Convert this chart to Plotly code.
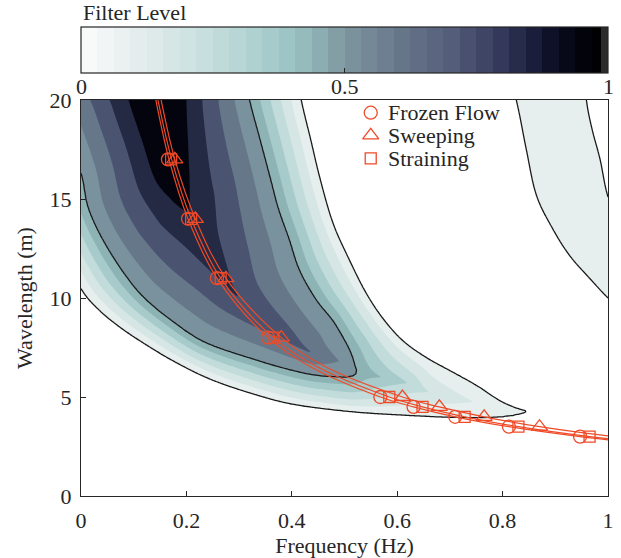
import numpy as np
import plotly.graph_objects as go

# ---------------- data ----------------
# Dispersion curves (wavelength in m -> frequency in Hz)
LINE_LAMBDA = [21, 20, 17, 14, 11, 8, 6.5, 5, 4.5, 4, 3.5, 3, 2.7]
FROZEN_LINE_F = [0.135, 0.142, 0.167, 0.203, 0.258, 0.355, 0.437, 0.568, 0.631, 0.71, 0.812, 0.947, 1.05]
STRAIN_LINE_F = [0.139, 0.146, 0.172, 0.209, 0.265, 0.365, 0.45, 0.585, 0.648, 0.728, 0.83, 0.965, 1.07]
SWEEP_LINE_F = [0.145, 0.152, 0.178, 0.217, 0.275, 0.38, 0.466, 0.61, 0.68, 0.765, 0.87, 1.01, 1.12]

# Marker positions
MARK_LAMBDA = [17, 14, 11, 8, 5, 4.5, 4, 3.5, 3]
FROZEN_MARK_F = [0.165, 0.203, 0.258, 0.355, 0.568, 0.631, 0.71, 0.812, 0.947]
STRAIN_MARK_F = [0.171, 0.209, 0.265, 0.365, 0.585, 0.648, 0.728, 0.83, 0.965]
SWEEP_MARK_LAMBDA = [17, 14, 11, 8, 5, 4.5, 4, 3.5]
SWEEP_MARK_F = [0.178, 0.217, 0.275, 0.38, 0.61, 0.68, 0.765, 0.87]
SERIES_NAMES = ['Frozen Flow', 'Sweeping', 'Straining']

# Traced contour lines of the filter level (frequency, wavelength)
# level 0 boundary of the main lobe (closed)
L0_F = [0.40, 0.418, 0.436, 0.454, 0.478, 0.508, 0.54, 0.572, 0.61, 0.655, 0.70, 0.75, 0.794, 0.825, 0.845,
        0.83, 0.80, 0.76, 0.70, 0.60, 0.51, 0.41, 0.34, 0.25, 0.18, 0.12, 0.07, 0.03, 0.0,
        -0.04, -0.08, -0.12, -0.15, -0.17]
L0_L = [22.5, 20, 18, 16, 13.8, 12, 10.3, 9.0, 7.86, 7.0, 6.34, 5.6, 4.83, 4.45, 4.28,
        4.12, 4.0, 3.95, 3.97, 4.1, 4.27, 4.6, 5.05, 5.85, 6.75, 7.7, 8.6, 9.5, 10.47,
        12.5, 15, 18, 20, 22.5]
# level 0.5 (closed)
L5_F = [0.30, 0.32, 0.34, 0.36, 0.375, 0.395, 0.415, 0.447, 0.478, 0.50, 0.513, 0.52, 0.523,
        0.52, 0.50, 0.447, 0.40, 0.34, 0.24, 0.18, 0.12, 0.08, 0.04, 0.013, 0.0, -0.03, -0.05, -0.06]
L5_L = [22.5, 20, 18, 16, 14.5, 13, 11.4, 9.9, 8.87, 7.9, 7.2, 6.6, 6.3,
        6.1, 6.0, 6.09, 6.35, 6.8, 7.7, 8.7, 10.0, 11.3, 13.0, 14.6, 16.3, 18.5, 20, 22.5]
# level 0.9 core (closed)
L9_F = [0.065, 0.09, 0.115, 0.14, 0.17, 0.195, 0.205, 0.206, 0.203, 0.20, 0.198]
L9_L = [22.5, 20, 18, 16, 15, 14.45, 14.6, 16, 18, 20, 22.5]
# ridge of the main lobe below the core (f, lambda, level)
RIDGE_F = [0.200, 0.25, 0.30, 0.38, 0.44, 0.49, 0.523]
RIDGE_L = [14.45, 12.0, 10.0, 8.3, 7.2, 6.8, 6.3]
RIDGE_V = [0.9, 0.85, 0.8, 0.75, 0.7, 0.6, 0.5]
# tail of the main lobe (f, lambda, level)
TAIL_F = [0.523, 0.57, 0.62, 0.66, 0.745, 0.845]
TAIL_L = [6.3, 6.0, 5.7, 5.25, 4.75, 4.28]
TAIL_V = [0.5, 0.4, 0.3, 0.2, 0.1, 0.0]
# side lobe on the right (closed, level 0 boundary)
SB_F = [0.80, 0.826, 0.845, 0.864, 0.895, 0.927, 0.965, 1.0, 1.03, 1.06, 1.03, 1.0, 0.985, 0.97, 0.959, 0.95]
SB_L = [22.5, 20, 17.5, 15.2, 13.5, 12.15, 11.0, 10.0, 9.3, 10.5, 13, 15.1, 17, 18.5, 20, 22.5]

# Filter level bands (below 0, then 0-0.1 ... 0.9-1)
BAND_COLORS = ['#ffffff', '#e6efee', '#d6e6e5', '#c2dcdb', '#a7cbcb', '#8db3b5',
               '#7a929d', '#66778a', '#4a5471', '#242944', '#03040e']
# colour bar map (level, colour)
CMAP_POS = [0.0, 0.1, 0.2, 0.3, 0.4, 0.45, 0.5, 0.55, 0.6, 0.7, 0.8, 0.85, 0.9, 0.95, 1.0]
CMAP_COL = ['#fbfcfc', '#e6eeee', '#d0e3e2', '#b6d6d5', '#9cc3c4', '#8db0b3', '#7f979f', '#738797',
            '#68788b', '#555e7a', '#33385a', '#1e223f', '#0b0d24', '#02030c', '#000000']
CB_END_STRIP = ('#2b2b2b', 0.987)
CB_TICKS = [0, 0.5, 1]
X_TICKS = [0, 0.2, 0.4, 0.6, 0.8, 1]
Y_TICKS = [0, 5, 10, 15, 20]
RED = '#ef4a28'
FONT = 'Liberation Serif, Times New Roman, serif'
INK = '#262626'
FS = 22

# ---------------- build the filter field from the traced lines ----------------
SX, SY = 527.5, 19.79  # pixel scale of the axes (for isotropic distances)
nf, nl = 321, 321
fg = np.linspace(0, 1, nf)
lg = np.linspace(0, 20, nl)
FF, LL = np.meshgrid(fg, lg)
PX, PY = FF * SX, LL * SY


def densify(P, vals=None, closed=True, k=6):
    """Catmull-Rom smoothing of a traced polyline."""
    P = np.asarray(P, float)
    n = len(P)
    V = None if vals is None else np.asarray(vals, float)
    out, outv = [], []
    rng = range(n) if closed else range(n - 1)
    for i in rng:
        if closed:
            p0, p1, p2, p3 = P[(i - 1) % n], P[i], P[(i + 1) % n], P[(i + 2) % n]
        else:
            p0 = P[max(i - 1, 0)]
            p1, p2 = P[i], P[i + 1]
            p3 = P[min(i + 2, n - 1)]
        for s in np.linspace(0, 1, k, endpoint=False):
            s2, s3 = s * s, s * s * s
            pt = 0.5 * ((2 * p1) + (-p0 + p2) * s + (2 * p0 - 5 * p1 + 4 * p2 - p3) * s2
                        + (-p0 + 3 * p1 - 3 * p2 + p3) * s3)
            out.append(pt)
            if V is not None:
                outv.append(V[i] + s * (V[(i + 1) % n] - V[i]))
    if not closed:
        out.append(P[-1])
        if V is not None:
            outv.append(V[-1])
    return np.array(out), (None if V is None else np.array(outv))


def poly(fs, ls):
    return np.column_stack([np.asarray(fs) * SX, np.asarray(ls) * SY])


def inside(P):
    x, y = P[:, 0], P[:, 1]
    res = np.zeros(PX.shape, bool)
    n = len(x)
    for i in range(n):
        j = (i - 1) % n
        xi, yi, xj, yj = x[i], y[i], x[j], y[j]
        if yi == yj:
            continue
        cond = ((yi > PY) != (yj > PY)) & (PX < (xj - xi) * (PY - yi) / (yj - yi) + xi)
        res ^= cond
    return res


def dist(P, vals=None, closed=True):
    n = len(P)
    best = np.full(PX.shape, np.inf)
    bv = np.zeros(PX.shape)
    segs = range(n) if closed else range(n - 1)
    for i in segs:
        a = P[i]
        b = P[(i + 1) % n]
        dx, dy = b - a
        L2 = dx * dx + dy * dy
        if L2 == 0:
            continue
        t = np.clip(((PX - a[0]) * dx + (PY - a[1]) * dy) / L2, 0, 1)
        d = np.hypot(PX - (a[0] + t * dx), PY - (a[1] + t * dy))
        m = d < best
        best = np.where(m, d, best)
        if vals is not None:
            v = vals[i] + t * (vals[(i + 1) % n] - vals[i])
            bv = np.where(m, v, bv)
    return best, bv


P0, _ = densify(poly(L0_F, L0_L))
P5, _ = densify(poly(L5_F, L5_L))
P9, _ = densify(poly(L9_F, L9_L))
PSB, _ = densify(poly(SB_F, SB_L))
PR, VR = densify(poly(RIDGE_F, RIDGE_L), RIDGE_V, closed=False)
PT, VT = densify(poly(TAIL_F, TAIL_L), TAIL_V, closed=False)
in0, in5, in9, insb = inside(P0), inside(P5), inside(P9), inside(PSB)
d0, _ = dist(P0)
d5, _ = dist(P5)
d9, _ = dist(P9)
dsb, _ = dist(PSB)
dr, vr = dist(PR, VR, closed=False)
dt, vt = dist(PT, VT, closed=False)
eps = 1e-6


def blend(da, va, db, vb):
    wa, wb = 1 / (da + eps) ** 2, 1 / (db + eps) ** 2
    return (va * wa + vb * wb) / (wa + wb), (wa + wb) ** -0.5


Z = np.where(insb, 0.05 * np.minimum(1, dsb / 4), -0.05 * np.minimum(1, np.minimum(d0, dsb) / 4))
vu, du = blend(d5, 0.5, dt, vt)
zB = vu * d0 / (d0 + du + eps)
vu2, du2 = blend(d9, 0.9, dr, vr)
zC = 0.5 + (vu2 - 0.5) * d5 / (d5 + du2 + eps)
zD = 0.9 + 0.08 * np.minimum(1, d9 / 20)
Z = np.where(in0 & ~in5, zB, Z)
Z = np.where(in5 & ~in9, zC, Z)
Z = np.where(in9, zD, Z)

# ---------------- figure ----------------
fill_scale = [[i / 10, c] for i, c in enumerate(BAND_COLORS)]


def hex2rgb(h):
    return np.array([int(h[i:i + 2], 16) for i in (1, 3, 5)], float)


# stepped colour bar (the reference bar shows ~32 visible steps, plus a thin grey end strip)
NSTEP = 32
cm_rgb = np.array([hex2rgb(c) for c in CMAP_COL])
strip_col, strip_start = CB_END_STRIP
cb_scale = []
for k in range(NSTEP):
    lo, hi = k / NSTEP, (k + 1) / NSTEP
    if lo >= strip_start:
        break
    mid = (lo + hi) / 2
    rgb = [np.interp(mid, CMAP_POS, cm_rgb[:, j]) for j in range(3)]
    col = 'rgb(%d,%d,%d)' % tuple(int(round(v)) for v in rgb)
    cb_scale.append([lo, col])
    cb_scale.append([min(hi, strip_start), col])
cb_scale.append([strip_start, strip_col])
cb_scale.append([1.0, strip_col])
SMOOTH = 0.8

fig = go.Figure()
fig.add_trace(go.Contour(
    x=fg, y=lg, z=Z, colorscale=fill_scale, showscale=False, showlegend=False,
    contours=dict(start=0, end=0.9, size=0.1, coloring='fill', showlines=False),
    line=dict(width=0, smoothing=SMOOTH), hoverinfo='skip'))
fig.add_trace(go.Contour(
    x=fg, y=lg, z=Z, showscale=False, showlegend=False,
    contours=dict(start=0, end=0.5, size=0.5, coloring='none'),
    line=dict(color='#1a1a1a', width=1.3, smoothing=SMOOTH), hoverinfo='skip'))

for fl in (FROZEN_LINE_F, STRAIN_LINE_F, SWEEP_LINE_F):
    fig.add_trace(go.Scatter(x=fl, y=LINE_LAMBDA, mode='lines', showlegend=False,
                             line=dict(color=RED, width=1.2, shape='spline'), hoverinfo='skip'))

mk = dict(color=RED, line=dict(width=1.3, color=RED))
SYMBOLS = [('circle-open', 13), ('triangle-up-open', 14), ('square-open', 11)]
SERIES = [(FROZEN_MARK_F, MARK_LAMBDA), (SWEEP_MARK_F, SWEEP_MARK_LAMBDA), (STRAIN_MARK_F, MARK_LAMBDA)]
for (xs, ys), (sym, sz), nm in zip(SERIES, SYMBOLS, SERIES_NAMES):
    fig.add_trace(go.Scatter(x=xs, y=ys, mode='markers', name=nm, showlegend=False,
                             marker=dict(symbol=sym, size=sz, **mk)))

# legend keys, drawn on an overlay axis spanning the plot area (0..1 both ways)
LEG_X = (371 - 81) / 527.5
LEG_TEXT_X = (386 - 81) / 527.5
LEG_Y = [(495.5 - y) / 395.5 for y in (112.7, 135.3, 158.3)]
for (sym, sz), nm, yy in zip(SYMBOLS, SERIES_NAMES, LEG_Y):
    fig.add_trace(go.Scatter(x=[LEG_X], y=[yy], xaxis='x2', yaxis='y2', mode='markers',
                             showlegend=False, hoverinfo='skip', cliponaxis=False,
                             marker=dict(symbol=sym, size=sz, **mk)))
    fig.add_annotation(text=nm, xref='paper', yref='paper', x=LEG_TEXT_X, y=yy,
                       xanchor='left', yanchor='middle', showarrow=False,
                       font=dict(size=FS, color=INK, family=FONT))

# colour bar carrier
fig.add_trace(go.Scatter(
    x=[2, 2], y=[-5, -5], mode='markers', showlegend=False, hoverinfo='skip',
    marker=dict(size=1, color=[0, 1], cmin=0, cmax=1, colorscale=cb_scale, showscale=True,
                colorbar=dict(orientation='h', x=0.5, xanchor='center', y=1 + 73 / 396, yanchor='top',
                              len=1.0, lenmode='fraction', thickness=46, xpad=0, ypad=0,
                              outlinewidth=1.2, outlinecolor=INK,
                              ticks='inside', ticklen=5, tickcolor=INK,
                              tickvals=CB_TICKS, showticklabels=False))))
for v in CB_TICKS:
    fig.add_annotation(text=('%g' % v), xref='paper', yref='paper', x=v, y=1 + 14 / 396,
                       xanchor='center', yanchor='middle', showarrow=False,
                       font=dict(size=FS, color=INK, family=FONT))

axis_common = dict(showgrid=False, zeroline=False, showline=True, linecolor=INK, linewidth=1.3,
                   mirror=True, ticks='inside', ticklen=5, tickcolor=INK,
                   tickfont=dict(size=FS, color=INK, family=FONT))
fig.update_xaxes(range=[0, 1], tickvals=X_TICKS, ticktext=['0', '0.2', '0.4', '0.6', '0.8', '1'],
                 ticklabelstandoff=4,
                 title=dict(text='Frequency (Hz)', font=dict(size=FS, color=INK, family=FONT), standoff=0),
                 **axis_common)
fig.update_yaxes(range=[0, 20], tickvals=Y_TICKS, ticktext=[str(v) for v in Y_TICKS],
                 ticklabelstandoff=4,
                 title=dict(text='Wavelength (m)', font=dict(size=FS, color=INK, family=FONT), standoff=10),
                 **axis_common)
fig.add_annotation(text='Filter Level', xref='paper', yref='paper', x=0, y=1 + 87 / 396,
                   xanchor='left', yanchor='middle', showarrow=False,
                   font=dict(size=FS, color=INK, family=FONT))
fig.update_layout(
    width=621, height=558, margin=dict(l=81, r=13, t=100, b=62, autoexpand=False),
    paper_bgcolor='white', plot_bgcolor='white',
    font=dict(family=FONT, size=FS, color=INK),
    showlegend=False,
    xaxis2=dict(overlaying='x', range=[0, 1], visible=False),
    yaxis2=dict(overlaying='y', range=[0, 1], visible=False),
)
fig.write_html('out.html')
